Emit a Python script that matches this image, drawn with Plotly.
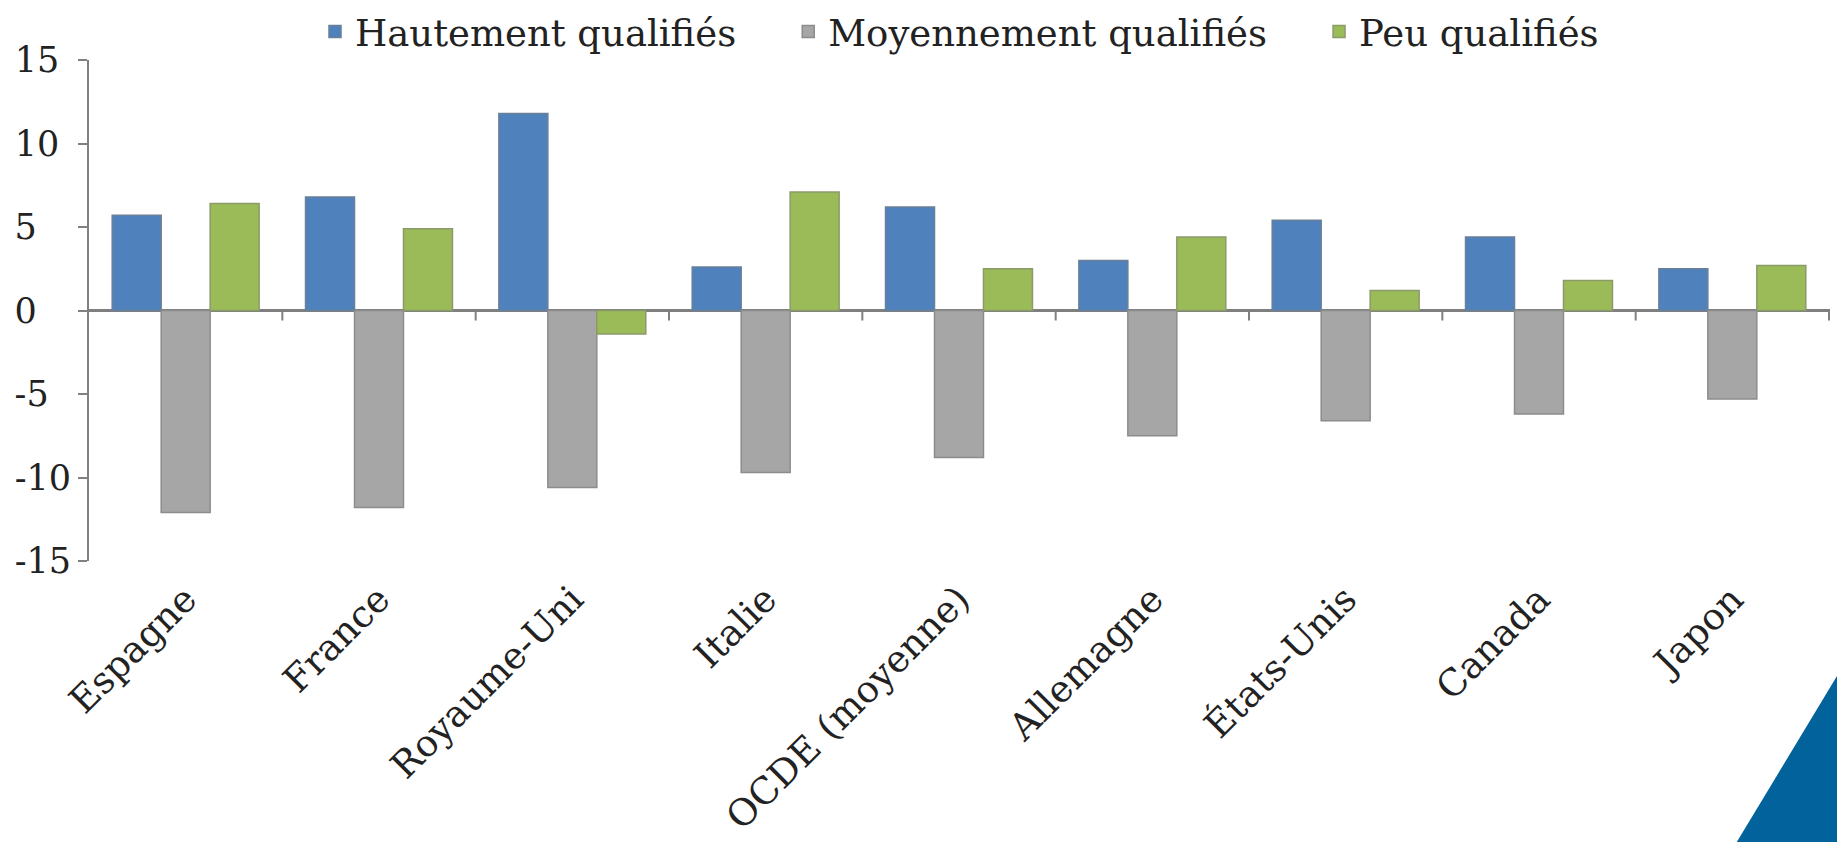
import plotly.graph_objects as go

categories = ["Espagne", "France", "Royaume-Uni", "Italie", "OCDE (moyenne)",
              "Allemagne", "États-Unis", "Canada", "Japon"]
hautement = [5.7, 6.8, 11.8, 2.6, 6.2, 3.0, 5.4, 4.4, 2.5]
moyennement = [-12.1, -11.8, -10.6, -9.7, -8.8, -7.5, -6.6, -6.2, -5.3]
peu = [6.4, 4.9, -1.4, 7.1, 2.5, 4.4, 1.2, 1.8, 2.7]
series_names = ["Hautement qualifiés", "Moyennement qualifiés", "Peu qualifiés"]
y_ticks = [-15, -10, -5, 0, 5, 10, 15]

FONT = "DejaVu Serif"
colors = ["#4F81BD", "#A6A6A6", "#9BBB59"]
edge = ["#6a7f98", "#8c8c8c", "#8a9a6a"]
NB = "\u00a0"
legend_pad = [NB * 4, NB * 4, ""]

fig = go.Figure()
for name, pad_s, vals, c, e in zip(series_names, legend_pad,
                                   [hautement, moyennement, peu], colors, edge):
    fig.add_trace(go.Bar(x=categories, y=vals, name=name + pad_s,
                         marker=dict(color=c, line=dict(color=e, width=1.5))))

# left-aligned tick labels: pad (invisibly) to the width of "-10"
def pad(v):
    s = str(v)
    hidden = ""
    if abs(v) < 10:
        hidden += "0"
    if v >= 0:
        hidden += "-"
    if hidden:
        s += "<span style='color:rgba(255,255,255,0)'>" + hidden + "</span>"
    return s
tick_text = [pad(v) for v in y_ticks]

W, H = 1837, 842
L, R, T, B = 89, 7, 60, 281

shapes = []
# category boundary ticks on the zero axis
for i in range(len(categories)):
    shapes.append(dict(type="line", xref="x", yref="y", x0=i + 0.5, x1=i + 0.5,
                       ysizemode="pixel", yanchor=0, y0=0, y1=-10,
                       line=dict(color="#7f7f7f", width=2)))
# decorative corner triangle
pw, ph = W - L - R, H - T - B
def px(x): return (x - L) / pw
def py(y): return (H - B - y) / ph
shapes.append(dict(type="path", xref="paper", yref="paper",
                   path=f"M {px(1735)} {py(845)} L {px(1840)} {py(845)} L {px(1840)} {py(671)} Z",
                   fillcolor="#01629c", line=dict(width=0), layer="above"))

fig.update_layout(
    width=W, height=H,
    margin=dict(l=L, r=R, t=T, b=B, autoexpand=False),
    paper_bgcolor="white", plot_bgcolor="white",
    font=dict(family=FONT, color="#222222"),
    barmode="group", bargap=0.24, bargroupgap=0.0,
    showlegend=True,
    legend=dict(orientation="h", x=0.5, xanchor="center", y=1 + (T - 32) / ph,
                yanchor="middle", font=dict(size=37, family=FONT, color="#222222"),
                itemwidth=30, bgcolor="rgba(0,0,0,0)", traceorder="normal"),
    xaxis=dict(type="category", showline=False, ticks="", showgrid=False,
               tickangle=-45, tickfont=dict(size=37, family=FONT, color="#222222"),
               ticklabelstandoff=8, automargin=False),
    yaxis=dict(range=[-15, 15], tickvals=y_ticks, ticktext=tick_text,
               tickfont=dict(size=35, family=FONT, color="#222222"),
               ticks="outside", ticklen=9, tickwidth=2, tickcolor="#808080",
               showline=True, linecolor="#808080", linewidth=2,
               showgrid=False, zeroline=True, zerolinecolor="#7f7f7f",
               zerolinewidth=2.5, automargin=False),
    shapes=shapes,
)

fig.write_html("out.html", config={"displayModeBar": False},
               post_script="document.body.style.margin='0';document.body.style.padding='0';")
